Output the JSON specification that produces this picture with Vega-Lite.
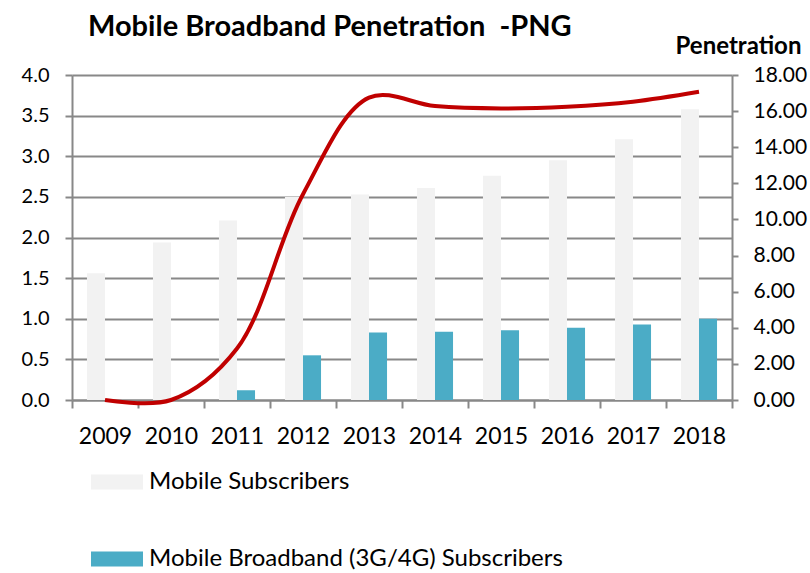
{
  "$schema": "https://vega.github.io/schema/vega-lite/v6.json",
  "width": 660,
  "height": 325,
  "autosize": {"type": "none"},
  "padding": {"left": 72, "top": 75, "right": 78, "bottom": 173},
  "background": "white",
  "title": {
    "text": "Mobile Broadband Penetration \u00a0-PNG",
    "anchor": "start",
    "frame": "group",
    "dx": 16,
    "offset": -8,
    "font": "Lato",
    "fontSize": 29,
    "fontWeight": "bold",
    "color": "#000000"
  },
  "datasets": {
    "bars": [
      {"year": "2009", "series": "Mobile Subscribers", "value": 1.56},
      {"year": "2010", "series": "Mobile Subscribers", "value": 1.94},
      {"year": "2011", "series": "Mobile Subscribers", "value": 2.21},
      {"year": "2012", "series": "Mobile Subscribers", "value": 2.5},
      {"year": "2013", "series": "Mobile Subscribers", "value": 2.53},
      {"year": "2014", "series": "Mobile Subscribers", "value": 2.61},
      {"year": "2015", "series": "Mobile Subscribers", "value": 2.76},
      {"year": "2016", "series": "Mobile Subscribers", "value": 2.95},
      {"year": "2017", "series": "Mobile Subscribers", "value": 3.21},
      {"year": "2018", "series": "Mobile Subscribers", "value": 3.58},
      {"year": "2009", "series": "Mobile Broadband (3G/4G) Subscribers", "value": 0},
      {"year": "2010", "series": "Mobile Broadband (3G/4G) Subscribers", "value": 0},
      {"year": "2011", "series": "Mobile Broadband (3G/4G) Subscribers", "value": 0.12},
      {"year": "2012", "series": "Mobile Broadband (3G/4G) Subscribers", "value": 0.55},
      {"year": "2013", "series": "Mobile Broadband (3G/4G) Subscribers", "value": 0.83},
      {"year": "2014", "series": "Mobile Broadband (3G/4G) Subscribers", "value": 0.84},
      {"year": "2015", "series": "Mobile Broadband (3G/4G) Subscribers", "value": 0.86},
      {"year": "2016", "series": "Mobile Broadband (3G/4G) Subscribers", "value": 0.89},
      {"year": "2017", "series": "Mobile Broadband (3G/4G) Subscribers", "value": 0.93},
      {"year": "2018", "series": "Mobile Broadband (3G/4G) Subscribers", "value": 1.0}
    ],
    "pen": [
      {"year": "2009", "penetration": 0.0},
      {"year": "2010", "penetration": 0.0},
      {"year": "2011", "penetration": 2.85},
      {"year": "2012", "penetration": 11.4},
      {"year": "2013", "penetration": 16.75},
      {"year": "2014", "penetration": 16.28},
      {"year": "2015", "penetration": 16.15},
      {"year": "2016", "penetration": 16.24},
      {"year": "2017", "penetration": 16.52},
      {"year": "2018", "penetration": 17.07}
    ]
  },
  "encoding": {
    "x": {
      "field": "year",
      "type": "nominal",
      "scale": {"paddingInner": 0, "paddingOuter": 0},
      "axis": {
        "title": null,
        "labelAngle": 0,
        "labelFont": "Lato",
        "labelFontSize": 23,
        "labelColor": "#000000",
        "labelPadding": 17,
        "tickBand": "extent",
        "tickSize": 8,
        "tickColor": "#888888",
        "tickWidth": 2,
        "domainColor": "#888888",
        "domainWidth": 2,
        "grid": false
      }
    }
  },
  "layer": [
    {
      "data": {"name": "bars"},
      "mark": {"type": "bar"},
      "encoding": {
        "xOffset": {
          "field": "series",
          "type": "nominal",
          "sort": ["Mobile Subscribers", "Mobile Broadband (3G/4G) Subscribers"],
          "scale": {"paddingInner": 0, "paddingOuter": 0.83}
        },
        "y": {
          "field": "value",
          "type": "quantitative",
          "scale": {"domain": [0, 4], "nice": false, "zero": true},
          "axis": {
            "title": null,
            "orient": "left",
            "values": [0, 0.5, 1, 1.5, 2, 2.5, 3, 3.5, 4],
            "format": ".1f",
            "labelFont": "Lato",
            "labelFontSize": 20,
            "labelColor": "#000000",
            "labelPadding": 16,
            "tickSize": 7,
            "tickColor": "#888888",
            "tickWidth": 2,
            "domainColor": "#888888",
            "domainWidth": 2,
            "grid": true,
            "gridColor": "#888888",
            "gridWidth": 2
          }
        },
        "color": {
          "field": "series",
          "type": "nominal",
          "sort": ["Mobile Subscribers", "Mobile Broadband (3G/4G) Subscribers"],
          "scale": {
            "domain": ["Mobile Subscribers", "Mobile Broadband (3G/4G) Subscribers"],
            "range": ["#f2f2f2", "#4bacc6"]
          },
          "legend": {
            "title": null,
            "orient": "none",
            "legendX": 19,
            "legendY": 381,
            "padding": 0,
            "direction": "vertical",
            "symbolType": "M-1,-0.29H1V0.29H-1Z",
            "symbolSize": 2704,
            "symbolStrokeWidth": 0,
            "labelFont": "Lato",
            "labelFontSize": 24,
            "labelColor": "#000000",
            "labelOffset": 6,
            "rowPadding": 39,
            "labelLimit": 700
          }
        }
      }
    },
    {
      "data": {"name": "pen"},
      "mark": {"type": "line", "color": "#c00000", "strokeWidth": 4, "interpolate": "catmull-rom"},
      "encoding": {
        "y": {
          "field": "penetration",
          "type": "quantitative",
          "scale": {"domain": [0, 18], "nice": false},
          "axis": {
            "title": "Penetration",
            "orient": "right",
            "values": [0, 2, 4, 6, 8, 10, 12, 14, 16, 18],
            "format": ".2f",
            "labelFont": "Lato",
            "labelFontSize": 21,
            "labelColor": "#000000",
            "labelPadding": 15,
            "tickSize": 6,
            "tickColor": "#888888",
            "tickWidth": 2,
            "domainColor": "#888888",
            "domainWidth": 2,
            "grid": false,
            "titleAngle": 0,
            "titleX": 6,
            "titleY": -29,
            "titleAlign": "center",
            "titleBaseline": "middle",
            "titleFont": "Lato",
            "titleFontSize": 24,
            "titleFontWeight": "bold",
            "titleColor": "#000000"
          }
        }
      }
    }
  ],
  "resolve": {"scale": {"y": "independent"}},
  "config": {"view": {"stroke": null}}
}
